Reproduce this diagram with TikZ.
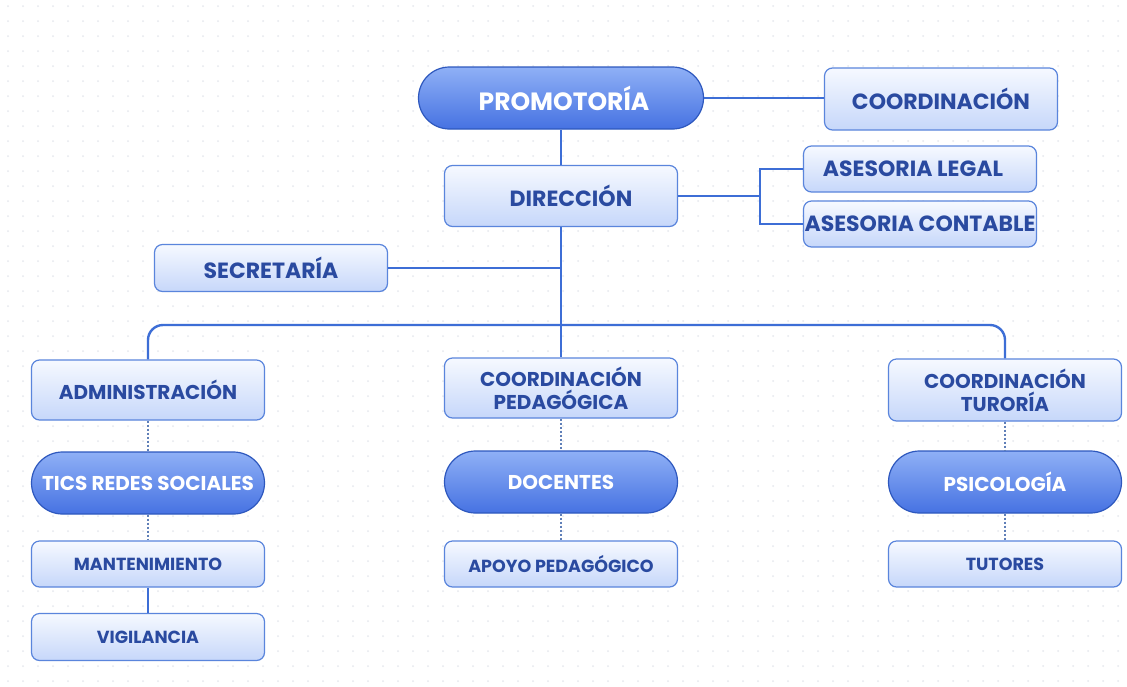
\documentclass[tikz,border=0pt]{standalone}
\usepackage{fontspec}
\setmainfont{Poppins}
\usetikzlibrary{shapes.misc}
\definecolor{linec}{HTML}{3D6ED6}
\definecolor{boxborder}{HTML}{5A85DC}
\definecolor{boxtop}{HTML}{F6F9FF}
\definecolor{boxbot}{HTML}{C6D7FA}
\definecolor{txtblue}{HTML}{2A4AA0}
\definecolor{pilltop}{HTML}{8FB0F6}
\definecolor{pillbot}{HTML}{4672E2}
\definecolor{pillborder}{HTML}{2E58BE}
\definecolor{dotc}{HTML}{E6E8EE}
\definecolor{dotline}{HTML}{5F7FB8}
\tikzset{
  box/.style={draw=boxborder, line width=1.2pt, rounded corners=8pt, top color=boxtop, bottom color=boxbot, text=txtblue, align=center, inner sep=0pt, minimum width=233},
  pill/.style={rounded rectangle, draw=pillborder, line width=1.2pt, top color=pilltop, bottom color=pillbot, text=white, align=center, inner sep=0pt, minimum width=233, minimum height=62},
  huge/.style={font=\fontsize{25}{28}\selectfont\bfseries},
  big/.style={font=\fontsize{22}{24}\selectfont\bfseries},
  mid/.style={font=\fontsize{20}{23}\selectfont\bfseries},
  small/.style={font=\fontsize{17.5}{20}\selectfont\bfseries},
  conn/.style={draw=linec, line width=2.4pt},
  dotconn/.style={draw=dotline, line width=2pt, dash pattern=on 2pt off 2pt},
}
\begin{document}
\begin{tikzpicture}[x=1pt,y=-1pt]
\useasboundingbox (0,0) rectangle (1127,686);
\fill[white] (0,0) rectangle (1127,686);
\foreach \i in {0,...,74}{\foreach \j in {0,...,45}{\fill[dotc] (\i*15+8,\j*15+6) circle (1);}}
% nodes
\node[pill, huge, minimum width=285] (prom) at (561,98) {\hspace*{6pt}PROMOTORÍA};
\node[box, big, minimum height=62] (coord) at (941,99) {COORDINACIÓN};
\node[box, big, minimum height=61] (dir) at (561,196) {\hspace*{20pt}DIRECCIÓN};
\node[box, big, minimum height=46] (legal) at (920,169) {ASESORIA LEGAL\hspace*{14pt}};
\node[box, big, minimum height=46] (cont) at (920,224) {ASESORIA CONTABLE};
\node[box, big, minimum height=47] (sec) at (271,268) {SECRETARÍA};
\node[box, mid, minimum height=60] (adm) at (148,390) {ADMINISTRACIÓN};
\node[box, mid, minimum height=60] (cped) at (561,388) {COORDINACIÓN\\PEDAGÓGICA};
\node[box, mid, minimum height=62] (ctut) at (1005,390) {COORDINACIÓN\\TURORÍA};
\node[pill, mid] (tics) at (148,483) {TICS REDES SOCIALES};
\node[pill, mid] (doc) at (561,482) {DOCENTES};
\node[pill, mid] (psi) at (1005,482) {PSICOLOGÍA};
\node[box, small, minimum height=46] (mant) at (148,564) {MANTENIMIENTO};
\node[box, small, minimum height=46] (apoyo) at (561,564) {APOYO PEDAGÓGICO};
\node[box, small, minimum height=46] (tut) at (1005,564) {TUTORES};
\node[box, small, minimum height=47] (vig) at (148,637) {VIGILANCIA};
% connectors
\coordinate (brx) at (760,0);
\coordinate (busy) at (0,325);
\draw[conn] (prom.east) -- (prom.east -| coord.west);
\draw[conn] (prom.south) -- (dir.north);
\draw[conn] (dir.east) -- (dir.east -| brx);
\draw[conn] (legal.west) -| (dir.east -| brx) |- (cont.west);
\draw[conn] (sec.east) -- (sec.east -| dir.south);
\draw[conn] (dir.south) -- (cped.north);
\draw[conn, rounded corners=15pt] (adm.north) -- (adm.north |- busy) -- (ctut.north |- busy) -- (ctut.north);
\draw[dotconn] (adm.south) -- (tics.north);
\draw[dotconn] (tics.south) -- (mant.north);
\draw[dotconn] (cped.south) -- (doc.north);
\draw[dotconn] (doc.south) -- (apoyo.north);
\draw[dotconn] (ctut.south) -- (psi.north);
\draw[dotconn] (psi.south) -- (tut.north);
\draw[conn] (mant.south) -- (vig.north);
\end{tikzpicture}
\end{document}
